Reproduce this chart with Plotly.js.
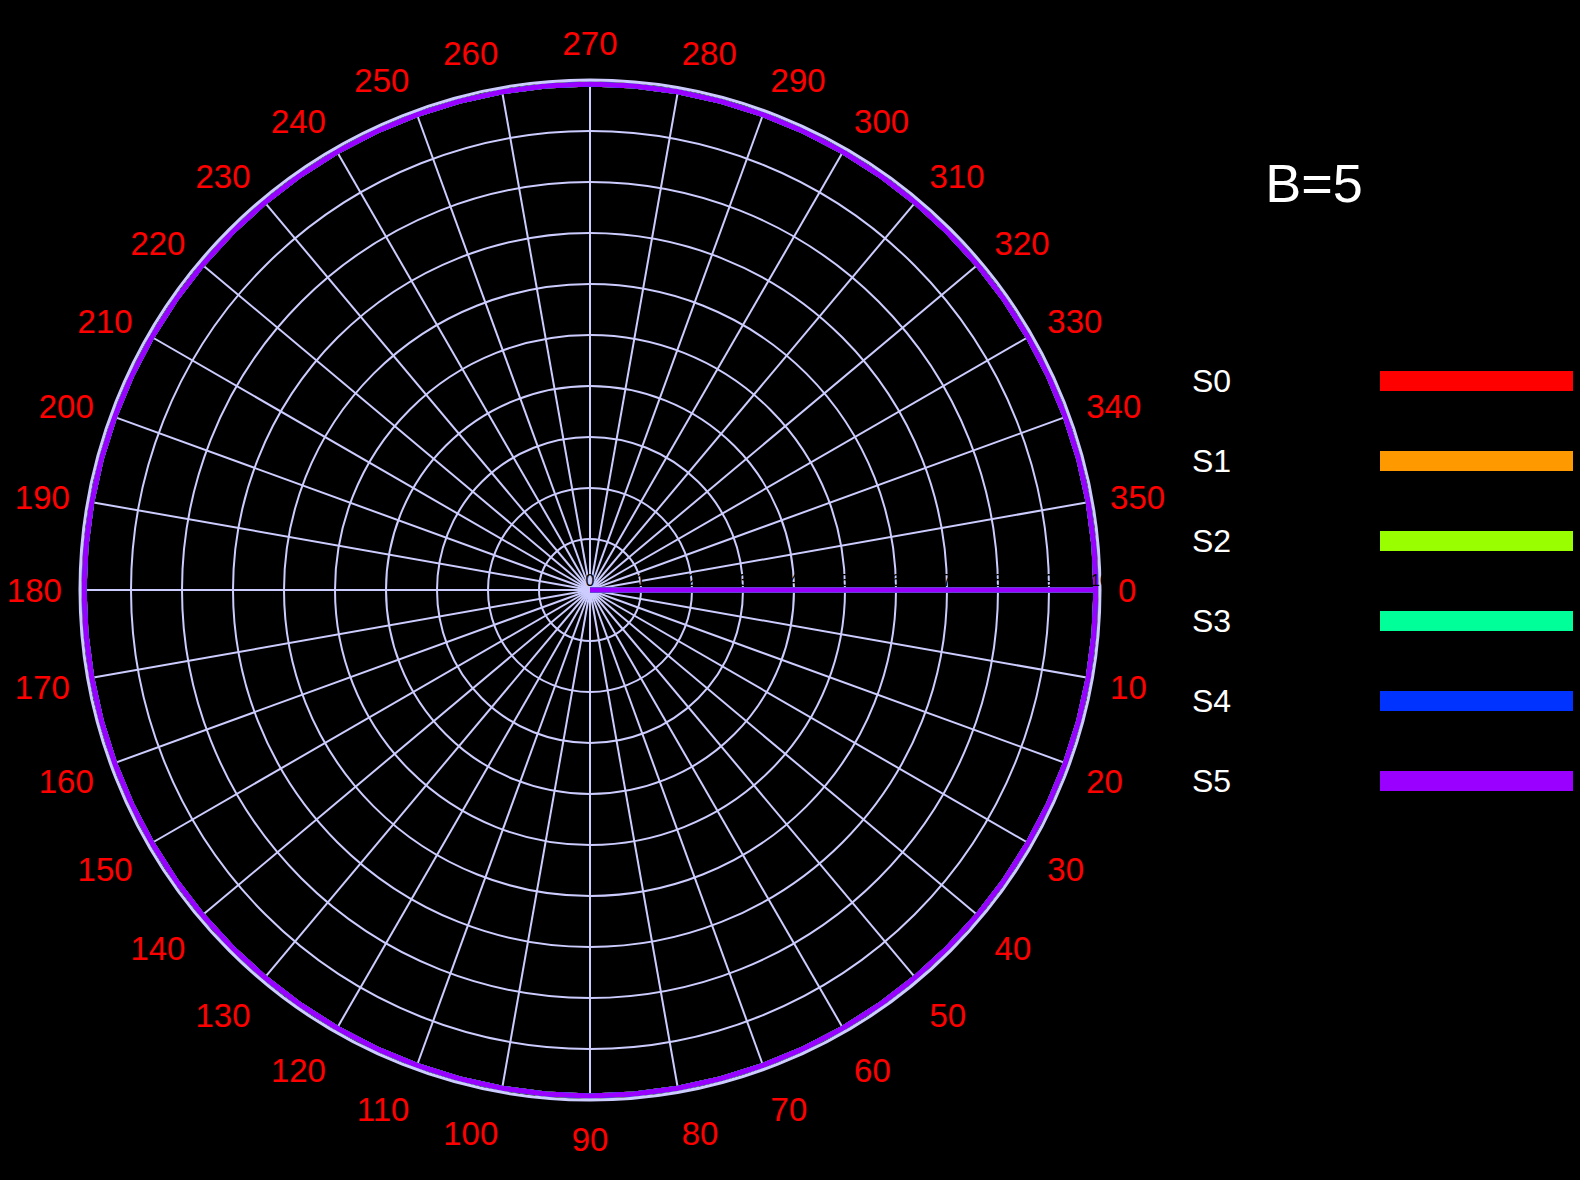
<!DOCTYPE html>
<html>
<head>
<meta charset="utf-8">
<script src="https://cdn.plot.ly/plotly-3.0.1.min.js"></script>
<style>html,body{margin:0;padding:0;background:#000;}#chart{width:1580px;height:1180px;}</style>
</head>
<body>
<div id="chart"></div>
<script>
// Series names and colours
const seriesNames = ["S0", "S1", "S2", "S3", "S4", "S5"];
const seriesColors = ["#ff0000", "#ff9900", "#99ff00", "#00ff99", "#0033ff", "#9900ff"];
// Angular tick values and labels
const angleTicks = [0, 10, 20, 30, 40, 50, 60, 70, 80, 90, 100, 110, 120, 130, 140, 150, 160, 170,
  180, 190, 200, 210, 220, 230, 240, 250, 260, 270, 280, 290, 300, 310, 320, 330, 340, 350];
const angleTickLabels = ["0", "10", "20", "30", "40", "50", "60", "70", "80", "90", "100", "110",
  "120", "130", "140", "150", "160", "170", "180", "190", "200", "210", "220", "230", "240",
  "250", "260", "270", "280", "290", "300", "310", "320", "330", "340", "350"];
// Angles (degrees) of each point: a spoke from centre out at 0°, then once round the circle
const angles = [0, 0, 5, 10, 15, 20, 25, 30, 35, 40, 45, 50, 55, 60, 65, 70, 75, 80, 85, 90,
  95, 100, 105, 110, 115, 120, 125, 130, 135, 140, 145, 150, 155, 160, 165, 170, 175, 180,
  185, 190, 195, 200, 205, 210, 215, 220, 225, 230, 235, 240, 245, 250, 255, 260, 265, 270,
  275, 280, 285, 290, 295, 300, 305, 310, 315, 320, 325, 330, 335, 340, 345, 350, 355, 360];
// Radius of each point (all series coincide, so only the last drawn, S5, shows)
const radii = [0, 9.92, 9.92, 9.92, 9.92, 9.92, 9.92, 9.92, 9.92, 9.92, 9.92, 9.92, 9.92, 9.92,
  9.92, 9.92, 9.92, 9.92, 9.92, 9.92, 9.92, 9.92, 9.92, 9.92, 9.92, 9.92, 9.92, 9.92, 9.92,
  9.92, 9.92, 9.92, 9.92, 9.92, 9.92, 9.92, 9.92, 9.92, 9.92, 9.92, 9.92, 9.92, 9.92, 9.92,
  9.92, 9.92, 9.92, 9.92, 9.92, 9.92, 9.92, 9.92, 9.92, 9.92, 9.92, 9.92, 9.92, 9.92, 9.92,
  9.92, 9.92, 9.92, 9.92, 9.92, 9.92, 9.92, 9.92, 9.92, 9.92, 9.92, 9.92, 9.92, 9.92, 9.92];
const titleText = "B=5";

const W = 1580, H = 1180;
const FONT = "Liberation Sans, Arial, sans-serif";
const GRID = "#ccccff";

const traces = seriesNames.map((name, i) => ({
  type: "scatterpolar",
  mode: "lines",
  name: name,
  r: radii,
  theta: angles,
  line: {color: seriesColors[i], width: 5},
  showlegend: false,
  hoverinfo: "skip"
}));

// Hand-made legend: label on the left, colour bar on the right
const legendTop = 381, legendStep = 80;
const annotations = seriesNames.map((name, i) => ({
  xref: "paper", yref: "paper",
  x: 1190 / W, y: 1 - (legendTop + i * legendStep) / H,
  xanchor: "left", yanchor: "middle",
  text: name, showarrow: false,
  font: {family: FONT, size: 32, color: "#ffffff"}
}));
const shapes = seriesColors.map((c, i) => ({
  type: "rect", xref: "paper", yref: "paper",
  x0: 1380 / W, x1: 1573 / W,
  y0: 1 - (legendTop + i * legendStep - 10) / H,
  y1: 1 - (legendTop + i * legendStep + 10) / H,
  fillcolor: c, line: {width: 0}
}));

const layout = {
  width: W, height: H,
  paper_bgcolor: "#000000",
  plot_bgcolor: "#000000",
  margin: {l: 0, r: 0, t: 0, b: 0},
  showlegend: false,
  title: {
    text: titleText,
    x: 1314 / W, y: 1 - 183 / H, xanchor: "center", yanchor: "middle",
    font: {family: FONT, size: 54, color: "#ffffff"}
  },
  polar: {
    domain: {x: [80 / W, 1100 / W], y: [80 / H, 1100 / H]},
    bgcolor: "#000000",
    radialaxis: {
      range: [0, 10], dtick: 1, angle: 0, side: "counterclockwise",
      showgrid: true, gridcolor: GRID, gridwidth: 2,
      showline: false, ticks: "",
      tickfont: {family: FONT, size: 16, color: "#000000"}
    },
    angularaxis: {
      rotation: 0, direction: "clockwise",
      tickmode: "array", tickvals: angleTicks, ticktext: angleTickLabels,
      showgrid: true, gridcolor: GRID, gridwidth: 2,
      showline: true, linecolor: GRID, linewidth: 3,
      ticks: "outside", ticklen: 10, tickcolor: "rgba(0,0,0,0)",
      tickfont: {family: FONT, size: 33, color: "#ff0000"}
    }
  },
  annotations: annotations,
  shapes: shapes
};

Plotly.newPlot("chart", traces, layout, {displayModeBar: false, staticPlot: true});
</script>
</body>
</html>
